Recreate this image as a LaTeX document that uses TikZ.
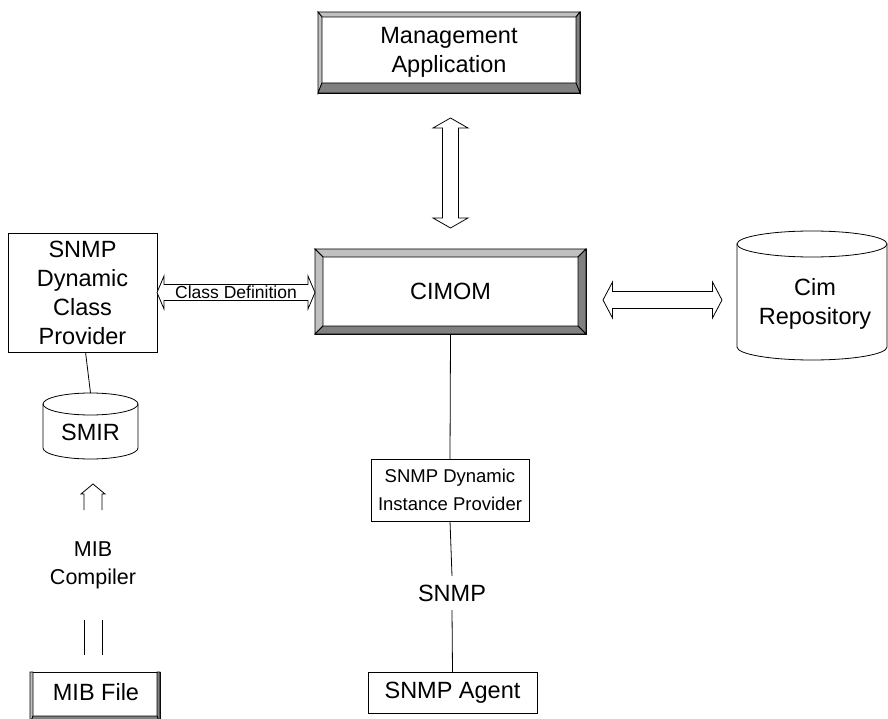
\documentclass[tikz,border=0pt]{standalone}
\usepackage{fontspec}
\setmainfont{Liberation Sans}
\usetikzlibrary{calc}
\definecolor{bevlight}{HTML}{C0C0C0}
\definecolor{bevdark}{HTML}{808080}
% bevel panels around a node: name, left, top, right, bottom depth
\newcommand\bevelbox[5]{%
  \coordinate (o1) at (#1.north west);
  \coordinate (o2) at (#1.north east);
  \coordinate (o3) at (#1.south east);
  \coordinate (o4) at (#1.south west);
  \coordinate (i1) at ($(o1)+(#2,#3)$);
  \coordinate (i2) at ($(o2)+(-#4,#3)$);
  \coordinate (i3) at ($(o3)+(-#4,-#5)$);
  \coordinate (i4) at ($(o4)+(#2,-#5)$);
  \filldraw[fill=bevlight] (o1)--(o2)--(i2)--(i1)--cycle;
  \filldraw[fill=bevlight] (o1)--(i1)--(i4)--(o4)--cycle;
  \filldraw[fill=bevdark] (o2)--(o3)--(i3)--(i2)--cycle;
  \filldraw[fill=bevdark] (o4)--(i4)--(i3)--(o3)--cycle;
}
% cylinder outline around a node: name, x radius, y radius
\newcommand\cylshape[3]{%
  \draw ($(#1.north west)+(0,#3)$) -- ($(#1.south west)+(0,-#3)$)
    arc[start angle=180,end angle=360,x radius=#2pt,y radius=#3pt]
    -- ($(#1.north east)+(0,#3)$);
  \draw ($(#1.north)+(0,#3)$) ellipse[x radius=#2pt,y radius=#3pt];
}
% horizontal double block arrow: left tip, right tip, shaft half, head half, head length
\newcommand\hdarrow[5]{%
  \draw[fill=white] (#1) -- ($(#1)+(#5,-#4)$) -- ($(#1)+(#5,-#3)$) -- ($(#2)+(-#5,-#3)$)
    -- ($(#2)+(-#5,-#4)$) -- (#2) -- ($(#2)+(-#5,#4)$) -- ($(#2)+(-#5,#3)$)
    -- ($(#1)+(#5,#3)$) -- ($(#1)+(#5,#4)$) -- cycle;
}
% vertical double block arrow: top tip, bottom tip, shaft half, head half, head length
\newcommand\vdarrow[5]{%
  \draw[fill=white] (#1) -- ($(#1)+(#4,#5)$) -- ($(#1)+(#3,#5)$) -- ($(#2)+(#3,-#5)$)
    -- ($(#2)+(#4,-#5)$) -- (#2) -- ($(#2)+(-#4,-#5)$) -- ($(#2)+(-#3,-#5)$)
    -- ($(#1)+(-#3,#5)$) -- ($(#1)+(-#4,#5)$) -- cycle;
}
\begin{document}
\begin{tikzpicture}[x=1pt,y=-1pt,line width=0.8pt,
  txt/.style={font=\fontsize{23.5}{29}\selectfont,align=center,inner sep=0pt,outer sep=0pt},
  bev/.style={txt,draw},
  pbox/.style={txt,draw,fill=white},
  cylbox/.style={inner sep=0pt,outer sep=0pt}]
\useasboundingbox (0,0) rectangle (888,719);

% boxes
\node[bev,minimum width=262pt,minimum height=81pt] (mgmt) at (449,52.5) {Management\\Application};
\bevelbox{mgmt}{4}{5}{4}{10}
\node[bev,minimum width=271pt,minimum height=85pt] (cimom) at (450.5,291.5) {CIMOM};
\bevelbox{cimom}{8}{8}{8}{8}
\node[pbox,minimum width=149pt,minimum height=119pt] (prov) at (82.5,292.5) {SNMP\\Dynamic\\Class\\Provider};
\node[pbox,minimum width=158pt,minimum height=62pt,font=\fontsize{18.5}{28}\selectfont] (inst) at (450,490) {SNMP Dynamic\\Instance Provider};
\node[pbox,minimum width=169pt,minimum height=41pt] (agent) at (452.5,692.5) {SNMP Agent};
\node[bev,minimum width=130pt,minimum height=52pt] (mib) at (95,698) {};
\bevelbox{mib}{3}{0}{3}{8}
\node[txt] (mibtxt) at (96,692.5) {MIB File};

% cylinders
\node[cylbox,minimum width=95pt,minimum height=66pt] (smir) at (90.5,426) {};
\cylshape{smir}{47.5}{11}
\node[txt] (smirtxt) at (90.5,432) {SMIR};
\node[cylbox,minimum width=150pt,minimum height=129pt] (cim) at (812,295.5) {};
\cylshape{cim}{75}{13}
\node[txt] (cimtxt) at (815,304) {Cim\\Repository};

% labels on connectors
\node[txt,minimum height=34pt] (snmp) at (452,593) {SNMP};
\node[txt,minimum height=110pt,font=\fontsize{21.5}{28}\selectfont] (mibc) at (93,565) {MIB\\Compiler};

% plain connectors
\draw (cimom.south) -- (inst.north);
\draw (inst.south) -- (snmp.north);
\draw (snmp.south) -- (agent.north);
\draw ($(prov.south)+(3,0)$) -- (smir.north);

% block arrows
\coordinate (vt) at ($(cimom.north |- mgmt.south)+(0,25)$);
\coordinate (vb) at ($(cimom.north)+(0,-21)$);
\vdarrow{vt}{vb}{8}{17.5}{10}

\coordinate (cl) at (prov.east);
\coordinate (cr) at (cimom.west |- prov.east);
\hdarrow{cl}{cr}{8}{16.5}{7}
\node[font=\fontsize{17.5}{20}\selectfont,inner sep=0pt] (cdl) at ($(cl)!0.5!(cr)+(0,-0.5)$) {Class Definition};

\coordinate (rl) at ($(cimom.east |- cim.center)+(17,4.5)$);
\coordinate (rr) at ($(cim.west)+(-15,4.5)$);
\hdarrow{rl}{rr}{8.5}{18}{9.5}

% MIB compiler arrow (open, broken by its label)
\coordinate (ut) at ($(smir.south)+(2.5,25)$);
\draw ($(mibc.north)+(-9,0)$) -- ($(ut)+(-9,10)$) -- ($(ut)+(-12,10)$) -- (ut)
  -- ($(ut)+(12,10)$) -- ($(ut)+(9,10)$) -- ($(mibc.north)+(9,0)$);
\draw ($(mibc.south)+(-9,0)$) -- ($(mibc.south |- mib.north)+(-9,-17)$);
\draw ($(mibc.south)+(9,0)$) -- ($(mibc.south |- mib.north)+(9,-17)$);
\end{tikzpicture}
\end{document}
